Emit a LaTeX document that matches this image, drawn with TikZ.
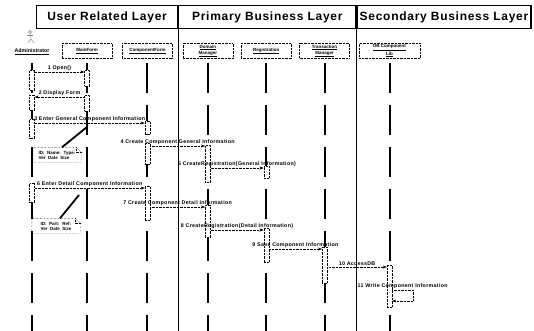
\documentclass[tikz,border=0pt]{standalone}
\usepackage{fontspec}
\setmainfont{Liberation Sans}
\newfontfamily\spaced[LetterSpace=6]{Liberation Sans}
\usetikzlibrary{arrows.meta, positioning, calc}

\begin{document}
\begin{tikzpicture}[x=1pt, y=-1pt,
        layer/.style={draw, line width=1.2pt, minimum height=23pt, inner sep=0pt, font=\spaced\bfseries\fontsize{12}{14}\selectfont},
        obj/.style={draw, densely dotted, minimum width=50pt, minimum height=15pt, inner sep=1pt, align=center, font=\bfseries\fontsize{4.5}{6}\selectfont},
        life/.style={line width=2pt, dash pattern=on 30pt off 12pt},
        act/.style={draw, densely dotted, fill=white, minimum width=5pt, inner sep=0pt, anchor=north},
        msg/.style={densely dotted, -{Stealth[length=4pt, width=3pt]}},
        lbl/.style={above=1.5pt, inner sep=0pt, font=\spaced\bfseries\fontsize{5.3}{6}\selectfont},
        memo/.style={minimum width=48pt, minimum height=15pt, inner sep=1pt, align=left, font=\bfseries\fontsize{4.5}{5}\selectfont},
        tie/.style={line width=1.8pt}
    ]
    \useasboundingbox (0,0) rectangle (534,331);
    \coordinate (bottom) at (0,331);

    \node[layer, minimum width=141pt, anchor=north west] (user) at (36,5) {User Related Layer};
    \node[layer, minimum width=177pt, right=0pt of user] (primary) {Primary Business Layer};
    \node[layer, minimum width=174pt, right=0pt of primary] (secondary) {Secondary Business Layer};
    \draw[line width=1pt] (user.south east) -- (user.south east |- bottom);
    \draw[line width=1pt] (primary.south east) -- (primary.south east |- bottom);

    % actor
    \begin{scope}[gray, line width=0.4pt]
        \draw (30,32) circle (1.5pt);
        \draw (30,33.5) -- (31,39) -- (28,43);
        \draw (31,39) -- (34,43);
        \draw (27,35.5) -- (33,35.5);
    \end{scope}

    \node[inner sep=1pt, font=\bfseries\fontsize{5.3}{5.8}\selectfont] (admin) at (32,52) {\underline{Administrator}};
    \node[obj] (mainform) at (87,51) {\underline{MainForm}};
    \node[obj, right=10pt of mainform] (compform) {\underline{ComponentForm}};
    \node[obj, right=10pt of compform] (domain) {\underline{Domain}\\\underline{Manager}};
    \node[obj, right=8pt of domain] (regist) {\underline{Registration}};
    \node[obj, right=8pt of regist] (trans) {\underline{Transaction}\\\underline{Manager}};
    \node[obj, minimum width=61pt, right=9pt of trans] (dblib) {\underline{DB Component}\\\underline{Lib}};

    \foreach \o in {admin, mainform, compform, domain, regist, trans, dblib}
        \draw[life] (\o.south |- 0,63) -- (\o.south |- bottom);

    \foreach \n/\o/\t/\h in {aa1/admin/70/20, ab1/mainform/70/16, aa2/admin/95/15, ab2/mainform/95/16,
            aa3/admin/119/19, ac1/compform/121/13, ac2/compform/143/21, ad1/domain/145/37,
            ae1/regist/166/12, aa4/admin/183/19, ac3/compform/186/34, ad2/domain/205/32,
            ae2/regist/228/34, af1/trans/247/36, ag1/dblib/265/42}
        \node[act, minimum height=\h pt] (\n) at (\o.south |- 0,\t) {};

    \draw[msg] (aa1.east |- 0,72) -- node[lbl] {1 Open()} (ab1.west |- 0,72);
    \draw[msg] (ab2.west |- 0,97) -- node[lbl] {2 Display Form} (aa2.east |- 0,97);
    \draw[msg] (aa3.east |- 0,123) -- node[lbl] {3 Enter General Component Information} (ac1.west |- 0,123);
    \draw[msg] (ac2.east |- 0,146) -- node[lbl] {4 Create Component General Information} (ad1.west |- 0,146);
    \draw[msg] (ad1.east |- 0,168) -- node[lbl] {5 CreateRegistration(General Information)} (ae1.west |- 0,168);
    \draw[msg] (aa4.east |- 0,188) -- node[lbl] {6 Enter Detail Component Information} (ac3.west |- 0,188);
    \draw[msg] (ac3.east |- 0,207) -- node[lbl] {7 Create Component Detail Information} (ad2.west |- 0,207);
    \draw[msg] (ad2.east |- 0,230) -- node[lbl] {8 CreateRegistration(Detail Information)} (ae2.west |- 0,230);
    \draw[msg] (ae2.east |- 0,249) -- node[lbl] {9 Save Component Information} (af1.west |- 0,249);
    \draw[msg] (af1.east |- 0,267) -- node[lbl] {10 AccessDB} (ag1.west |- 0,267);
    \coordinate (loop) at (413,290);
    \draw[msg] (ag1.east |- loop) -- node[lbl] {11 Write Component Information} (loop) -- (loop |- 0,301) -- (ag1.east |- 0,301);

    \node[memo] (note1) at (57,155) {ID: \ Name: \ Type:\\Ver \ Date \ Size};
    \node[memo] (note2) at (56,226) {ID: \ Part: \ Ref:\\Ver \ Date \ Size};
    \foreach \m in {note1, note2} {
        \draw[densely dotted] (\m.north west) -- ([xshift=-5pt]\m.north east) -- ([yshift=-5pt]\m.north east) -- (\m.south east) -- (\m.south west) -- cycle;
        \draw[densely dotted] ([xshift=-5pt]\m.north east) |- ([yshift=-5pt]\m.north east);
    }
    \coordinate (tie1) at (87,127);
    \coordinate (tie2) at (79,195);
    \draw[tie] ([xshift=5pt]note1.north) -- (tie1);
    \draw[tie] ([xshift=4pt]note2.north) -- (tie2);
\end{tikzpicture}
\end{document}
